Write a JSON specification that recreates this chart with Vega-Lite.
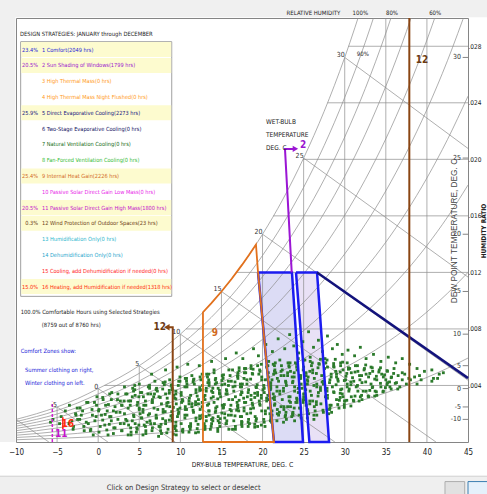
{
"$schema":"https://vega.github.io/schema/vega-lite/v6.json",
"width":452,"height":424,
"autosize":{"type":"none"},
"padding":{"left":16,"top":18,"right":19,"bottom":52},
"background":"white",
"config":{
 "font":"Liberation Sans Narrow, DejaVu Sans Condensed, sans-serif",
 "view":{"stroke":"#858585","strokeWidth":1,"fill":"white"},
 "text":{"font":"Liberation Sans Narrow, DejaVu Sans Condensed, sans-serif","fontSize":7,"color":"#222222"}
},
"resolve":{"scale":{"y":"independent"}},
"datasets":{
 "rh":[
  {"g":100,"t":-10,"w":1.60},{"g":100,"t":-7.5,"w":2.00},{"g":100,"t":-5,"w":2.48},{"g":100,"t":-2.5,"w":3.07},{"g":100,"t":0,"w":3.78},{"g":100,"t":2.5,"w":4.53},{"g":100,"t":5,"w":5.40},{"g":100,"t":7.5,"w":6.44},{"g":100,"t":10,"w":7.63},{"g":100,"t":12.5,"w":9.03},{"g":100,"t":15,"w":10.65},{"g":100,"t":17.5,"w":12.53},{"g":100,"t":20,"w":14.70},{"g":100,"t":22.5,"w":17.20},{"g":100,"t":25,"w":20.09},{"g":100,"t":27.5,"w":23.40},{"g":100,"t":30,"w":27.21},{"g":100,"t":32.5,"w":31.58},
  {"g":90,"t":-10,"w":1.44},{"g":90,"t":-7.5,"w":1.80},{"g":90,"t":-5,"w":2.23},{"g":90,"t":-2.5,"w":2.76},{"g":90,"t":0,"w":3.40},{"g":90,"t":2.5,"w":4.07},{"g":90,"t":5,"w":4.86},{"g":90,"t":7.5,"w":5.79},{"g":90,"t":10,"w":6.86},{"g":90,"t":12.5,"w":8.11},{"g":90,"t":15,"w":9.57},{"g":90,"t":17.5,"w":11.25},{"g":90,"t":20,"w":13.20},{"g":90,"t":22.5,"w":15.44},{"g":90,"t":25,"w":18.02},{"g":90,"t":27.5,"w":20.98},{"g":90,"t":30,"w":24.38},{"g":90,"t":32.5,"w":28.28},{"g":90,"t":35,"w":32.74},
  {"g":80,"t":-10,"w":1.28},{"g":80,"t":-7.5,"w":1.60},{"g":80,"t":-5,"w":1.98},{"g":80,"t":-2.5,"w":2.45},{"g":80,"t":0,"w":3.02},{"g":80,"t":2.5,"w":3.61},{"g":80,"t":5,"w":4.32},{"g":80,"t":7.5,"w":5.14},{"g":80,"t":10,"w":6.09},{"g":80,"t":12.5,"w":7.20},{"g":80,"t":15,"w":8.49},{"g":80,"t":17.5,"w":9.98},{"g":80,"t":20,"w":11.70},{"g":80,"t":22.5,"w":13.69},{"g":80,"t":25,"w":15.97},{"g":80,"t":27.5,"w":18.58},{"g":80,"t":30,"w":21.58},{"g":80,"t":32.5,"w":25.01},{"g":80,"t":35,"w":28.93},{"g":80,"t":37.5,"w":33.41},
  {"g":70,"t":-10,"w":1.12},{"g":70,"t":-7.5,"w":1.40},{"g":70,"t":-5,"w":1.73},{"g":70,"t":-2.5,"w":2.15},{"g":70,"t":0,"w":2.64},{"g":70,"t":2.5,"w":3.16},{"g":70,"t":5,"w":3.77},{"g":70,"t":7.5,"w":4.49},{"g":70,"t":10,"w":5.32},{"g":70,"t":12.5,"w":6.29},{"g":70,"t":15,"w":7.42},{"g":70,"t":17.5,"w":8.72},{"g":70,"t":20,"w":10.22},{"g":70,"t":22.5,"w":11.94},{"g":70,"t":25,"w":13.93},{"g":70,"t":27.5,"w":16.20},{"g":70,"t":30,"w":18.80},{"g":70,"t":32.5,"w":21.77},{"g":70,"t":35,"w":25.17},{"g":70,"t":37.5,"w":29.04},{"g":70,"t":40,"w":33.44},
  {"g":60,"t":-10,"w":0.96},{"g":60,"t":-7.5,"w":1.20},{"g":60,"t":-5,"w":1.48},{"g":60,"t":-2.5,"w":1.84},{"g":60,"t":0,"w":2.26},{"g":60,"t":2.5,"w":2.71},{"g":60,"t":5,"w":3.23},{"g":60,"t":7.5,"w":3.85},{"g":60,"t":10,"w":4.56},{"g":60,"t":12.5,"w":5.39},{"g":60,"t":15,"w":6.35},{"g":60,"t":17.5,"w":7.46},{"g":60,"t":20,"w":8.74},{"g":60,"t":22.5,"w":10.21},{"g":60,"t":25,"w":11.90},{"g":60,"t":27.5,"w":13.83},{"g":60,"t":30,"w":16.05},{"g":60,"t":32.5,"w":18.57},{"g":60,"t":35,"w":21.45},{"g":60,"t":37.5,"w":24.73},{"g":60,"t":40,"w":28.44},{"g":60,"t":42.5,"w":32.66},
  {"g":50,"t":-10,"w":0.80},{"g":50,"t":-7.5,"w":1.00},{"g":50,"t":-5,"w":1.24},{"g":50,"t":-2.5,"w":1.53},{"g":50,"t":0,"w":1.88},{"g":50,"t":2.5,"w":2.25},{"g":50,"t":5,"w":2.69},{"g":50,"t":7.5,"w":3.20},{"g":50,"t":10,"w":3.79},{"g":50,"t":12.5,"w":4.48},{"g":50,"t":15,"w":5.28},{"g":50,"t":17.5,"w":6.20},{"g":50,"t":20,"w":7.26},{"g":50,"t":22.5,"w":8.49},{"g":50,"t":25,"w":9.88},{"g":50,"t":27.5,"w":11.48},{"g":50,"t":30,"w":13.31},{"g":50,"t":32.5,"w":15.40},{"g":50,"t":35,"w":17.77},{"g":50,"t":37.5,"w":20.47},{"g":50,"t":40,"w":23.52},{"g":50,"t":42.5,"w":26.98},{"g":50,"t":45,"w":30.90},
  {"g":40,"t":-10,"w":0.64},{"g":40,"t":-7.5,"w":0.80},{"g":40,"t":-5,"w":0.99},{"g":40,"t":-2.5,"w":1.22},{"g":40,"t":0,"w":1.51},{"g":40,"t":2.5,"w":1.80},{"g":40,"t":5,"w":2.15},{"g":40,"t":7.5,"w":2.56},{"g":40,"t":10,"w":3.03},{"g":40,"t":12.5,"w":3.58},{"g":40,"t":15,"w":4.22},{"g":40,"t":17.5,"w":4.95},{"g":40,"t":20,"w":5.80},{"g":40,"t":22.5,"w":6.77},{"g":40,"t":25,"w":7.88},{"g":40,"t":27.5,"w":9.15},{"g":40,"t":30,"w":10.61},{"g":40,"t":32.5,"w":12.26},{"g":40,"t":35,"w":14.14},{"g":40,"t":37.5,"w":16.27},{"g":40,"t":40,"w":18.68},{"g":40,"t":42.5,"w":21.40},{"g":40,"t":45,"w":24.47},
  {"g":30,"t":-10,"w":0.48},{"g":30,"t":-5,"w":0.74},{"g":30,"t":0,"w":1.13},{"g":30,"t":2.5,"w":1.35},{"g":30,"t":5,"w":1.61},{"g":30,"t":7.5,"w":1.92},{"g":30,"t":10,"w":2.27},{"g":30,"t":12.5,"w":2.68},{"g":30,"t":15,"w":3.16},{"g":30,"t":17.5,"w":3.71},{"g":30,"t":20,"w":4.34},{"g":30,"t":22.5,"w":5.06},{"g":30,"t":25,"w":5.89},{"g":30,"t":27.5,"w":6.84},{"g":30,"t":30,"w":7.92},{"g":30,"t":32.5,"w":9.15},{"g":30,"t":35,"w":10.54},{"g":30,"t":37.5,"w":12.12},{"g":30,"t":40,"w":13.90},{"g":30,"t":42.5,"w":15.91},{"g":30,"t":45,"w":18.18},
  {"g":20,"t":-10,"w":0.32},{"g":20,"t":-5,"w":0.49},{"g":20,"t":0,"w":0.75},{"g":20,"t":5,"w":1.07},{"g":20,"t":7.5,"w":1.28},{"g":20,"t":10,"w":1.51},{"g":20,"t":12.5,"w":1.79},{"g":20,"t":15,"w":2.10},{"g":20,"t":17.5,"w":2.47},{"g":20,"t":20,"w":2.89},{"g":20,"t":22.5,"w":3.37},{"g":20,"t":25,"w":3.92},{"g":20,"t":27.5,"w":4.54},{"g":20,"t":30,"w":5.26},{"g":20,"t":32.5,"w":6.07},{"g":20,"t":35,"w":6.99},{"g":20,"t":37.5,"w":8.03},{"g":20,"t":40,"w":9.20},{"g":20,"t":42.5,"w":10.52},{"g":20,"t":45,"w":12.00},
  {"g":10,"t":-10,"w":0.16},{"g":10,"t":0,"w":0.38},{"g":10,"t":5,"w":0.54},{"g":10,"t":10,"w":0.76},{"g":10,"t":15,"w":1.05},{"g":10,"t":20,"w":1.44},{"g":10,"t":25,"w":1.95},{"g":10,"t":27.5,"w":2.26},{"g":10,"t":30,"w":2.62},{"g":10,"t":32.5,"w":3.02},{"g":10,"t":35,"w":3.48},{"g":10,"t":37.5,"w":3.99},{"g":10,"t":40,"w":4.57},{"g":10,"t":42.5,"w":5.22},{"g":10,"t":45,"w":5.94}
 ],
 "grid":[
  {"t1":-5,"w1":0,"t2":-5,"w2":2.48},{"t1":0,"w1":0,"t2":0,"w2":3.78},{"t1":5,"w1":0,"t2":5,"w2":5.40},{"t1":10,"w1":0,"t2":10,"w2":7.63},{"t1":15,"w1":0,"t2":15,"w2":10.65},{"t1":20,"w1":0,"t2":20,"w2":14.70},{"t1":25,"w1":0,"t2":25,"w2":20.09},{"t1":30,"w1":0,"t2":30,"w2":27.21},{"t1":35,"w1":0,"t2":35,"w2":30},{"t1":40,"w1":0,"t2":40,"w2":30},
  {"t1":0.75,"w1":4,"t2":45,"w2":4},{"t1":10.66,"w1":8,"t2":45,"w2":8},{"t1":16.8,"w1":12,"t2":45,"w2":12},{"t1":21.3,"w1":16,"t2":45,"w2":16},{"t1":24.93,"w1":20,"t2":45,"w2":20},{"t1":27.9,"w1":24,"t2":45,"w2":24},{"t1":30.45,"w1":28,"t2":45,"w2":28},
  {"t1":-10,"w1":1.60,"t2":-6.0,"w2":0},{"t1":-5,"w1":2.48,"t2":1.18,"w2":0},{"t1":0,"w1":3.78,"t2":9.38,"w2":0},{"t1":5,"w1":5.40,"t2":18.37,"w2":0},{"t1":10,"w1":7.63,"t2":28.8,"w2":0},{"t1":15,"w1":10.65,"t2":41.1,"w2":0},{"t1":20,"w1":14.70,"t2":45,"w2":4.37},{"t1":25,"w1":20.09,"t2":45,"w2":11.67},{"t1":30,"w1":27.21,"t2":45,"w2":20.77}
 ],
 "hours":[
  {"t":-4.5,"w":1.8},{"t":-4.7,"w":1.3},{"t":-4.0,"w":2.2},{"t":-3.2,"w":1.5},{"t":-3.5,"w":2.6},{"t":-2.7,"w":1.9},{"t":-3.0,"w":1.1},{"t":-2.2,"w":2.4},{"t":-2.5,"w":1.6},{"t":-1.7,"w":0.8},{"t":-1.9,"w":2.2},{"t":-1.2,"w":1.3},{"t":-1.4,"w":2.8},{"t":-0.7,"w":1.9},{"t":-0.9,"w":0.9},{"t":-0.2,"w":2.6},{"t":-0.4,"w":1.5},{"t":-0.6,"w":0.5},
  {"t":0.1,"w":2.3},{"t":0.8,"w":1.2},{"t":0.6,"w":3.0},{"t":0.4,"w":1.9},{"t":0.1,"w":0.7},{"t":0.9,"w":2.6},{"t":1.6,"w":1.5},{"t":1.4,"w":3.4},{"t":1.1,"w":2.2},{"t":1.9,"w":1.0},{"t":1.6,"w":3.0},{"t":1.4,"w":1.8},{"t":1.2,"w":0.5},
  {"t":2.9,"w":2.6},{"t":2.7,"w":1.3},{"t":2.4,"w":3.4},{"t":2.2,"w":2.1},{"t":2.9,"w":0.8},{"t":2.7,"w":2.9},{"t":2.4,"w":1.6},{"t":3.2,"w":3.9},{"t":3.9,"w":2.6},{"t":3.7,"w":1.2},{"t":3.5,"w":3.4},{"t":3.2,"w":2.0},{"t":4.0,"w":0.7},{"t":3.7,"w":2.9},{"t":3.5,"w":1.5},
  {"t":4.2,"w":3.8},{"t":5.0,"w":2.4},{"t":4.7,"w":1.0},{"t":4.5,"w":3.3},{"t":4.3,"w":1.9},{"t":4.0,"w":0.5},{"t":4.8,"w":2.8},{"t":4.5,"w":1.3},{"t":4.3,"w":3.6},
  {"t":5.0,"w":2.3},{"t":5.8,"w":0.8},{"t":5.5,"w":3.2},{"t":5.3,"w":1.7},{"t":5.0,"w":4.1},{"t":5.8,"w":2.6},{"t":5.6,"w":1.2},{"t":5.3,"w":3.5},{"t":5.1,"w":2.0},{"t":5.8,"w":0.6},
  {"t":6.6,"w":3.0},{"t":6.3,"w":1.5},{"t":6.1,"w":3.9},{"t":6.8,"w":2.4},{"t":6.6,"w":1.0},{"t":6.4,"w":3.4},{"t":6.1,"w":1.9},{"t":6.9,"w":4.3},{"t":6.6,"w":2.8},{"t":6.4,"w":1.3},
  {"t":7.1,"w":3.8},{"t":7.9,"w":2.3},{"t":7.6,"w":0.8},{"t":7.4,"w":3.2},{"t":7.1,"w":1.7},{"t":7.9,"w":4.2},{"t":7.7,"w":2.7},{"t":7.4,"w":1.1},{"t":7.2,"w":3.6},{"t":7.9,"w":2.1},{"t":7.7,"w":0.6},
  {"t":8.4,"w":3.1},{"t":8.2,"w":1.5},{"t":8.9,"w":4.0},{"t":8.7,"w":2.5},{"t":8.5,"w":0.9},{"t":8.2,"w":3.4},{"t":9.0,"w":1.9},{"t":8.7,"w":4.4},{"t":8.5,"w":2.8},{"t":8.2,"w":1.3},{"t":9.0,"w":3.8},
  {"t":9.7,"w":2.3},{"t":9.5,"w":0.8},{"t":9.2,"w":3.3},{"t":9.0,"w":1.7},{"t":9.8,"w":4.3},{"t":9.5,"w":2.7},{"t":9.3,"w":1.1},{"t":9.0,"w":3.7},{"t":9.8,"w":2.1},{"t":9.5,"w":0.5},{"t":9.3,"w":3.1},{"t":9.0,"w":1.5},
  {"t":10.8,"w":4.1},{"t":10.6,"w":2.5},{"t":10.3,"w":0.9},{"t":10.1,"w":3.5},{"t":10.8,"w":1.9},{"t":10.6,"w":4.5},{"t":10.3,"w":2.9},{"t":10.1,"w":1.3},{"t":10.8,"w":3.9},{"t":10.6,"w":2.3},{"t":10.3,"w":0.7},{"t":10.1,"w":3.3},
  {"t":11.9,"w":1.7},{"t":11.6,"w":4.4},{"t":11.4,"w":2.7},{"t":11.1,"w":1.1},{"t":11.9,"w":3.7},{"t":11.6,"w":2.1},{"t":11.4,"w":4.7},{"t":11.1,"w":3.1},{"t":11.9,"w":1.5},{"t":11.7,"w":4.1},{"t":11.4,"w":2.5},{"t":11.2,"w":0.9},{"t":11.9,"w":3.5},
  {"t":12.7,"w":1.9},{"t":12.4,"w":4.6},{"t":12.2,"w":3.0},{"t":12.9,"w":1.3},{"t":12.7,"w":4.0},{"t":12.4,"w":2.3},{"t":12.2,"w":0.7},{"t":13.0,"w":3.3},{"t":12.7,"w":1.7},{"t":12.5,"w":4.4},{"t":12.2,"w":2.7},{"t":13.0,"w":1.1},{"t":12.7,"w":3.7},
  {"t":13.5,"w":2.2},{"t":13.2,"w":4.8},{"t":14.0,"w":3.2},{"t":13.8,"w":1.6},{"t":13.5,"w":4.2},{"t":13.3,"w":2.6},{"t":13.0,"w":0.9},{"t":13.8,"w":3.6},{"t":13.5,"w":1.9},{"t":13.3,"w":4.6},{"t":13.0,"w":3.0},{"t":13.8,"w":1.3},{"t":13.5,"w":4.0},
  {"t":14.3,"w":2.4},{"t":14.1,"w":5.1},{"t":14.8,"w":3.4},{"t":14.6,"w":1.8},{"t":14.3,"w":4.5},{"t":14.1,"w":2.8},{"t":14.8,"w":1.1},{"t":14.6,"w":3.8},{"t":14.3,"w":2.2},{"t":14.1,"w":4.9},{"t":14.9,"w":3.2},{"t":14.6,"w":1.5},{"t":14.4,"w":4.2},
  {"t":15.1,"w":2.6},{"t":15.9,"w":0.9},{"t":15.6,"w":3.7},{"t":15.4,"w":2.0},{"t":15.1,"w":4.7},{"t":15.9,"w":3.0},{"t":15.6,"w":1.3},{"t":15.4,"w":4.1},{"t":15.2,"w":2.4},{"t":15.9,"w":5.1},{"t":15.7,"w":3.4},{"t":15.4,"w":1.7},{"t":15.2,"w":4.5},
  {"t":16.9,"w":2.8},{"t":16.7,"w":1.1},{"t":16.4,"w":3.9},{"t":16.2,"w":2.2},{"t":17.0,"w":4.9},{"t":16.7,"w":3.2},{"t":16.5,"w":1.5},{"t":16.2,"w":4.3},{"t":17.0,"w":2.6},{"t":16.7,"w":0.9},{"t":16.5,"w":3.6},{"t":16.2,"w":1.9},{"t":17.0,"w":4.7},
  {"t":17.7,"w":3.1},{"t":17.5,"w":1.4},{"t":17.3,"w":4.1},{"t":17.0,"w":2.4},{"t":17.8,"w":5.2},{"t":17.5,"w":3.5},{"t":17.3,"w":1.8},{"t":17.0,"w":4.5},{"t":17.8,"w":2.8},{"t":17.5,"w":1.1},{"t":17.3,"w":3.9},{"t":17.1,"w":2.2},{"t":17.8,"w":4.9},
  {"t":18.6,"w":3.3},{"t":18.3,"w":1.6},{"t":18.1,"w":4.4},{"t":18.8,"w":2.6},{"t":18.6,"w":5.4},{"t":18.3,"w":3.7},{"t":18.1,"w":2.0},{"t":18.8,"w":4.8},{"t":18.6,"w":3.0},{"t":18.4,"w":1.3},{"t":18.1,"w":4.1},{"t":18.9,"w":2.4},{"t":18.6,"w":5.2},
  {"t":19.4,"w":3.5},{"t":19.1,"w":1.8},{"t":19.9,"w":4.6},{"t":19.6,"w":2.9},{"t":19.4,"w":1.1},{"t":19.2,"w":3.9},{"t":19.9,"w":2.2},{"t":19.7,"w":5.0},{"t":19.4,"w":3.3},{"t":19.2,"w":1.5},{"t":19.9,"w":4.4},{"t":19.7,"w":2.6},{"t":19.4,"w":5.4},
  {"t":20.2,"w":3.8},{"t":20.9,"w":2.0},{"t":20.7,"w":4.9},{"t":20.5,"w":3.1},{"t":20.2,"w":1.4},{"t":21.0,"w":4.2},{"t":20.7,"w":2.4},{"t":20.5,"w":5.3},{"t":20.2,"w":3.5},{"t":21.0,"w":1.8},{"t":20.7,"w":4.6},{"t":20.5,"w":2.9},{"t":20.3,"w":1.1},
  {"t":21.0,"w":4.0},{"t":21.8,"w":2.3},{"t":21.5,"w":5.1},{"t":21.3,"w":3.4},{"t":21.0,"w":1.6},{"t":21.8,"w":4.5},{"t":21.5,"w":2.7},{"t":21.3,"w":5.5},{"t":21.0,"w":3.8},{"t":21.8,"w":2.0},{"t":21.6,"w":4.9},{"t":21.3,"w":3.1},{"t":21.1,"w":1.4},
  {"t":22.8,"w":4.3},{"t":22.6,"w":2.5},{"t":22.3,"w":5.4},{"t":22.1,"w":3.6},{"t":22.8,"w":1.9},{"t":22.6,"w":4.7},{"t":22.4,"w":3.0},{"t":22.1,"w":5.8},{"t":22.9,"w":4.0},{"t":22.6,"w":2.3},{"t":22.4,"w":5.1},{"t":22.1,"w":3.4},{"t":22.9,"w":1.6},
  {"t":23.6,"w":4.6},{"t":23.4,"w":2.8},{"t":23.1,"w":5.6},{"t":23.9,"w":3.9},{"t":23.7,"w":2.1},{"t":23.4,"w":5.0},{"t":23.2,"w":3.2},{"t":23.9,"w":1.5},{"t":23.7,"w":4.3},{"t":23.4,"w":2.5},{"t":23.2,"w":5.4},{"t":23.9,"w":3.6},{"t":23.7,"w":1.9},
  {"t":24.5,"w":4.7},{"t":24.2,"w":3.0},{"t":25.0,"w":5.8},{"t":24.7,"w":4.1},{"t":24.5,"w":2.4},{"t":24.2,"w":5.1},{"t":25.0,"w":3.4},{"t":24.7,"w":1.7},{"t":24.5,"w":4.5},{"t":24.2,"w":2.8},{"t":24.0,"w":5.6},{"t":24.8,"w":3.8},
  {"t":25.5,"w":2.2},{"t":25.3,"w":4.9},{"t":25.0,"w":3.2},{"t":25.8,"w":6.0},{"t":25.5,"w":4.3},{"t":25.3,"w":2.6},{"t":25.0,"w":5.3},{"t":25.8,"w":3.6},{"t":25.6,"w":2.0},{"t":25.3,"w":4.7},{"t":25.1,"w":3.0},{"t":25.8,"w":5.7},
  {"t":26.6,"w":4.1},{"t":26.3,"w":2.5},{"t":26.1,"w":5.1},{"t":26.8,"w":3.5},{"t":26.6,"w":1.9},{"t":26.3,"w":4.5},{"t":26.1,"w":2.9},{"t":26.9,"w":5.5},{"t":26.6,"w":3.9},{"t":26.4,"w":2.2},{"t":26.1,"w":4.9},
  {"t":27.9,"w":3.3},{"t":27.6,"w":5.9},{"t":27.4,"w":4.3},{"t":27.1,"w":2.7},{"t":27.9,"w":5.3},{"t":27.7,"w":3.7},{"t":27.4,"w":2.1},{"t":27.2,"w":4.7},{"t":27.9,"w":3.1},{"t":27.7,"w":5.6},{"t":27.4,"w":4.1},
  {"t":28.2,"w":2.6},{"t":28.9,"w":5.0},{"t":28.7,"w":3.5},{"t":28.4,"w":2.1},{"t":28.2,"w":4.4},{"t":29.0,"w":3.0},{"t":28.7,"w":5.3},{"t":28.5,"w":3.9},{"t":28.2,"w":2.4},{"t":29.0,"w":4.8},
  {"t":29.7,"w":3.4},{"t":29.5,"w":5.6},{"t":29.2,"w":4.3},{"t":30.0,"w":2.9},{"t":29.8,"w":5.1},{"t":29.5,"w":3.7},{"t":29.3,"w":2.4},{"t":29.0,"w":4.6},{"t":29.8,"w":3.2},{"t":29.5,"w":5.4},
  {"t":30.3,"w":4.1},{"t":30.0,"w":2.9},{"t":30.8,"w":4.9},{"t":30.5,"w":3.6},{"t":30.3,"w":5.6},{"t":30.1,"w":4.4},{"t":30.8,"w":3.2},{"t":30.6,"w":5.2},{"t":30.3,"w":3.9},
  {"t":31.1,"w":2.9},{"t":31.8,"w":4.7},{"t":31.6,"w":3.6},{"t":31.3,"w":5.4},{"t":31.1,"w":4.3},{"t":31.9,"w":3.2},{"t":31.6,"w":5.0},{"t":31.4,"w":3.9},
  {"t":32.1,"w":3.0},{"t":32.9,"w":4.6},{"t":32.6,"w":3.6},{"t":32.4,"w":5.2},{"t":32.1,"w":4.2},{"t":32.9,"w":3.2},{"t":32.6,"w":4.8},
  {"t":33.4,"w":3.9},{"t":33.2,"w":5.3},{"t":33.9,"w":4.4},{"t":33.7,"w":3.6},{"t":33.4,"w":5.0},{"t":33.2,"w":4.1},{"t":33.9,"w":3.3},
  {"t":34.7,"w":4.6},{"t":34.4,"w":3.9},{"t":34.2,"w":5.1},{"t":35.0,"w":4.4},{"t":34.7,"w":3.6},{"t":34.5,"w":4.8},
  {"t":35.2,"w":4.2},{"t":36.0,"w":5.2},{"t":35.7,"w":4.6},{"t":35.5,"w":3.9},{"t":35.2,"w":5.0},
  {"t":37.0,"w":4.4},{"t":36.7,"w":3.9},{"t":36.5,"w":4.7},{"t":36.3,"w":4.2},{"t":37.0,"w":4.9},{"t":37.8,"w":4.5},{"t":37.5,"w":4.1},{"t":37.3,"w":4.8},
  {"t":38.0,"w":4.4},{"t":38.8,"w":4.1},{"t":38.5,"w":4.6},{"t":39.3,"w":4.4},{"t":39.1,"w":4.7},{"t":40.8,"w":4.5},{"t":40.6,"w":4.3},{"t":41.3,"w":4.5},
  {"t":12.3,"w":5.4},{"t":13.8,"w":5.7},{"t":15.5,"w":5.9},{"t":16.8,"w":6.3},{"t":17.6,"w":5.9},{"t":18.9,"w":6.6},{"t":19.5,"w":6.1},{"t":20.4,"w":6.9},{"t":21.2,"w":6.4},{"t":21.9,"w":7.3},{"t":22.7,"w":6.6},{"t":23.3,"w":7.6},{"t":23.8,"w":6.8},{"t":24.4,"w":6.3},{"t":24.9,"w":7.1},{"t":25.6,"w":7.8},{"t":26.2,"w":6.7},{"t":26.8,"w":7.2},{"t":27.3,"w":6.4},{"t":27.9,"w":7.5},{"t":28.5,"w":6.6},{"t":29.1,"w":6.9},{"t":29.7,"w":6.2},{"t":30.4,"w":6.5},{"t":31.2,"w":6.1},{"t":31.9,"w":6.7},{"t":32.6,"w":5.9},{"t":33.5,"w":6.2},{"t":34.4,"w":5.7},{"t":35.3,"w":6.0},{"t":36.2,"w":5.6},{"t":37.0,"w":5.9},{"t":37.9,"w":5.5},{"t":38.8,"w":5.2},{"t":39.7,"w":5.0},{"t":40.6,"w":5.1},{"t":41.5,"w":4.8},{"t":42.0,"w":4.9},{"t":6.5,"w":4.8},{"t":8.2,"w":5.1},{"t":9.6,"w":5.3},{"t":10.9,"w":5.5},{"t":-5.5,"w":1.6},{"t":-5.8,"w":1.4},
  {"t":-3.55,"w":1.3},{"t":-2.75,"w":2.0},{"t":-3.05,"w":0.9},{"t":-2.25,"w":1.6},{"t":-2.55,"w":2.4},{"t":-1.75,"w":1.1},{"t":-2.05,"w":1.9},{"t":-1.25,"w":2.8},{"t":-1.45,"w":1.4},{"t":-0.75,"w":2.3},{"t":-0.95,"w":0.8},{"t":-0.25,"w":1.8},{"t":-0.45,"w":2.8},{"t":0.25,"w":1.1},{"t":0.05,"w":2.2},{"t":-0.15,"w":3.2},
  {"t":0.55,"w":1.55},{"t":1.25,"w":2.65},{"t":1.05,"w":0.85},{"t":0.85,"w":1.95},{"t":0.55,"w":3.15},{"t":1.35,"w":1.25},
  {"t":2.05,"w":2.5},{"t":1.85,"w":0.6},{"t":1.55,"w":1.8},{"t":2.35,"w":3.0},{"t":2.05,"w":1.0},{"t":1.85,"w":2.2},{"t":1.65,"w":3.5},
  {"t":3.35,"w":1.6},{"t":3.15,"w":2.9},{"t":2.85,"w":0.8},{"t":2.65,"w":2.1},{"t":3.35,"w":3.4},{"t":3.15,"w":1.3},{"t":2.85,"w":2.6},
  {"t":3.65,"w":0.5},{"t":4.35,"w":1.8},{"t":4.15,"w":3.2},{"t":3.95,"w":1.0},{"t":3.65,"w":2.4},{"t":4.45,"w":3.7},{"t":4.15,"w":1.5},{"t":3.95,"w":2.9},
  {"t":4.65,"w":0.7},{"t":5.45,"w":2.1},{"t":5.15,"w":3.5},{"t":4.95,"w":1.2},{"t":4.75,"w":2.6},{"t":4.45,"w":4.0},{"t":5.25,"w":1.7},{"t":4.95,"w":3.2},{"t":4.75,"w":0.9},
  {"t":5.45,"w":2.3},{"t":6.25,"w":3.8},{"t":5.95,"w":1.4},{"t":5.75,"w":2.9},{"t":5.45,"w":0.5},{"t":6.25,"w":2.0},{"t":6.05,"w":3.4},{"t":5.75,"w":1.1},{"t":5.55,"w":2.6},{"t":6.25,"w":4.0},
  {"t":7.05,"w":1.7},{"t":6.75,"w":3.2},{"t":6.55,"w":0.8},{"t":7.25,"w":2.3},{"t":7.05,"w":3.7},{"t":6.85,"w":1.3},{"t":6.55,"w":2.8},{"t":7.35,"w":0.4},{"t":7.05,"w":1.9},{"t":6.85,"w":3.4},
  {"t":7.55,"w":1.05},{"t":8.35,"w":2.55},{"t":8.05,"w":4.05},{"t":7.85,"w":1.65},{"t":7.55,"w":3.15},{"t":8.35,"w":0.65},{"t":8.15,"w":2.15},{"t":7.85,"w":3.75},{"t":7.65,"w":1.25},{"t":8.35,"w":2.75},{"t":8.15,"w":4.25},
  {"t":8.85,"w":1.85},{"t":8.65,"w":3.45},{"t":9.35,"w":0.95},{"t":9.15,"w":2.45},{"t":8.95,"w":4.05},{"t":8.65,"w":1.55},{"t":9.45,"w":3.05},{"t":9.15,"w":0.55},{"t":8.95,"w":2.15},{"t":8.65,"w":3.65},{"t":9.45,"w":1.15},
  {"t":10.15,"w":2.8},{"t":9.95,"w":4.3},{"t":9.65,"w":1.8},{"t":9.45,"w":3.4},{"t":10.25,"w":0.8},{"t":9.95,"w":2.4},{"t":9.75,"w":4.0},{"t":9.45,"w":1.4},{"t":10.25,"w":3.0},{"t":9.95,"w":4.6},{"t":9.75,"w":2.0},{"t":9.45,"w":3.6},
  {"t":11.25,"w":1.1},{"t":11.05,"w":2.7},{"t":10.75,"w":4.3},{"t":10.55,"w":1.7},{"t":11.25,"w":3.3},{"t":11.05,"w":0.7},{"t":10.75,"w":2.3},{"t":10.55,"w":3.9},{"t":11.25,"w":1.3},{"t":11.05,"w":2.9},{"t":10.75,"w":4.5},{"t":10.55,"w":1.9},
  {"t":12.35,"w":3.65},{"t":12.05,"w":0.95},{"t":11.85,"w":2.65},{"t":11.55,"w":4.25},{"t":12.35,"w":1.65},{"t":12.05,"w":3.25},{"t":11.85,"w":0.65},{"t":11.55,"w":2.25},{"t":12.35,"w":3.85},{"t":12.15,"w":1.25},{"t":11.85,"w":2.85},{"t":11.65,"w":4.45},{"t":12.35,"w":1.85},
  {"t":13.15,"w":3.6},{"t":12.85,"w":0.9},{"t":12.65,"w":2.5},{"t":13.35,"w":4.2},{"t":13.15,"w":1.5},{"t":12.85,"w":3.2},{"t":12.65,"w":4.8},{"t":13.45,"w":2.2},{"t":13.15,"w":3.8},{"t":12.95,"w":1.1},{"t":12.65,"w":2.8},{"t":13.45,"w":4.4},{"t":13.15,"w":1.8},
  {"t":13.95,"w":3.5},{"t":13.65,"w":0.9},{"t":14.45,"w":2.5},{"t":14.25,"w":4.1},{"t":13.95,"w":1.5},{"t":13.75,"w":3.1},{"t":13.45,"w":4.8},{"t":14.25,"w":2.1},{"t":13.95,"w":3.8},{"t":13.75,"w":1.1},{"t":13.45,"w":2.7},{"t":14.25,"w":4.4},{"t":13.95,"w":1.7},
  {"t":14.75,"w":3.45},{"t":14.55,"w":0.75},{"t":15.25,"w":2.45},{"t":15.05,"w":4.05},{"t":14.75,"w":1.35},{"t":14.55,"w":3.05},{"t":15.25,"w":4.75},{"t":15.05,"w":2.05},{"t":14.75,"w":3.65},{"t":14.55,"w":0.95},{"t":15.35,"w":2.65},{"t":15.05,"w":4.35},{"t":14.85,"w":1.65},
  {"t":15.55,"w":3.4},{"t":16.35,"w":5.1},{"t":16.05,"w":2.3},{"t":15.85,"w":4.0},{"t":15.55,"w":1.3},{"t":16.35,"w":3.0},{"t":16.05,"w":4.7},{"t":15.85,"w":1.9},{"t":15.65,"w":3.6},{"t":16.35,"w":0.9},{"t":16.15,"w":2.6},{"t":15.85,"w":4.3},{"t":15.65,"w":1.5},
  {"t":17.35,"w":3.35},{"t":17.15,"w":5.05},{"t":16.85,"w":2.25},{"t":16.65,"w":3.95},{"t":17.45,"w":1.25},{"t":17.15,"w":2.95},{"t":16.95,"w":4.65},{"t":16.65,"w":1.85},{"t":17.45,"w":3.55},{"t":17.15,"w":5.25},{"t":16.95,"w":2.55},{"t":16.65,"w":4.25},{"t":17.45,"w":1.45},
  {"t":18.15,"w":3.2},{"t":17.95,"w":4.9},{"t":17.75,"w":2.2},{"t":17.45,"w":3.9},{"t":18.25,"w":1.1},{"t":17.95,"w":2.8},{"t":17.75,"w":4.5},{"t":17.45,"w":1.8},{"t":18.25,"w":3.5},{"t":17.95,"w":5.2},{"t":17.75,"w":2.4},{"t":17.55,"w":4.1},{"t":18.25,"w":1.4},
  {"t":19.05,"w":3.15},{"t":18.75,"w":4.85},{"t":18.55,"w":2.05},{"t":19.25,"w":3.85},{"t":19.05,"w":1.05},{"t":18.75,"w":2.75},{"t":18.55,"w":4.45},{"t":19.25,"w":1.65},{"t":19.05,"w":3.45},{"t":18.85,"w":5.15},{"t":18.55,"w":2.35},{"t":19.35,"w":4.05},{"t":19.05,"w":1.25},
  {"t":19.85,"w":3.1},{"t":19.55,"w":4.8},{"t":20.35,"w":2.0},{"t":20.05,"w":3.7},{"t":19.85,"w":5.5},{"t":19.65,"w":2.7},{"t":20.35,"w":4.4},{"t":20.15,"w":1.6},{"t":19.85,"w":3.3},{"t":19.65,"w":5.1},{"t":20.35,"w":2.2},{"t":20.15,"w":4.0},{"t":19.85,"w":1.2},
  {"t":20.65,"w":3.0},{"t":21.35,"w":4.8},{"t":21.15,"w":1.9},{"t":20.95,"w":3.7},{"t":20.65,"w":5.4},{"t":21.45,"w":2.6},{"t":21.15,"w":4.4},{"t":20.95,"w":1.5},{"t":20.65,"w":3.3},{"t":21.45,"w":5.0},{"t":21.15,"w":2.2},{"t":20.95,"w":3.9},{"t":20.75,"w":5.7},
  {"t":21.45,"w":3.0},{"t":22.25,"w":4.7},{"t":21.95,"w":1.9},{"t":21.75,"w":3.6},{"t":21.45,"w":5.4},{"t":22.25,"w":2.5},{"t":21.95,"w":4.3},{"t":21.75,"w":1.5},{"t":21.45,"w":3.2},{"t":22.25,"w":5.0},{"t":22.05,"w":2.1},{"t":21.75,"w":3.9},{"t":21.55,"w":5.6},
  {"t":23.25,"w":2.9},{"t":23.05,"w":4.7},{"t":22.75,"w":1.8},{"t":22.55,"w":3.6},{"t":23.25,"w":5.3},{"t":23.05,"w":2.5},{"t":22.85,"w":4.2},{"t":22.55,"w":1.4},{"t":23.35,"w":3.2},{"t":23.05,"w":4.9},{"t":22.85,"w":2.1},{"t":22.55,"w":3.8},{"t":23.35,"w":5.6},
  {"t":24.05,"w":2.8},{"t":23.85,"w":4.6},{"t":23.55,"w":1.8},{"t":24.35,"w":3.5},{"t":24.15,"w":5.3},{"t":23.85,"w":2.4},{"t":23.65,"w":4.2},{"t":24.35,"w":5.9},{"t":24.15,"w":3.1},{"t":23.85,"w":4.9},{"t":23.65,"w":2.0},{"t":24.35,"w":3.8},{"t":24.15,"w":5.5},
  {"t":24.95,"w":2.8},{"t":24.65,"w":4.5},{"t":25.45,"w":1.7},{"t":25.15,"w":3.4},{"t":24.95,"w":5.1},{"t":24.65,"w":2.4},{"t":25.45,"w":4.1},{"t":25.15,"w":5.8},{"t":24.95,"w":3.0},{"t":24.65,"w":4.7},{"t":24.45,"w":1.9},{"t":25.25,"w":3.7},
  {"t":25.95,"w":5.4},{"t":25.75,"w":2.7},{"t":25.45,"w":4.4},{"t":26.25,"w":1.6},{"t":25.95,"w":3.3},{"t":25.75,"w":5.0},{"t":25.45,"w":2.3},{"t":26.25,"w":4.0},{"t":26.05,"w":5.6},{"t":25.75,"w":2.9},{"t":25.55,"w":4.6},{"t":26.25,"w":1.9},
  {"t":27.05,"w":3.65},{"t":26.75,"w":5.25},{"t":26.55,"w":2.65},{"t":27.25,"w":4.25},{"t":27.05,"w":5.85},{"t":26.75,"w":3.25},{"t":26.55,"w":4.85},{"t":27.35,"w":2.25},{"t":27.05,"w":3.85},{"t":26.85,"w":5.55},{"t":26.55,"w":2.85},
  {"t":28.35,"w":4.6},{"t":28.05,"w":2.0},{"t":27.85,"w":3.6},{"t":27.55,"w":5.2},{"t":28.35,"w":2.6},{"t":28.15,"w":4.2},{"t":27.85,"w":5.8},{"t":27.65,"w":3.2},{"t":28.35,"w":4.8},{"t":28.15,"w":2.3},{"t":27.85,"w":3.8},
  {"t":28.65,"w":5.35},{"t":29.35,"w":2.95},{"t":29.15,"w":4.45},{"t":28.85,"w":5.85},{"t":28.65,"w":3.55},{"t":29.45,"w":4.95},{"t":29.15,"w":2.65},{"t":28.95,"w":4.05},{"t":28.65,"w":5.55},{"t":29.45,"w":3.15},
  {"t":30.15,"w":4.65},{"t":29.95,"w":2.45},{"t":29.65,"w":3.75},{"t":30.45,"w":5.15},{"t":30.25,"w":2.95},{"t":29.95,"w":4.35},{"t":29.75,"w":5.65},{"t":29.45,"w":3.45},{"t":30.25,"w":4.85},{"t":29.95,"w":2.65},
  {"t":30.75,"w":4.05},{"t":30.45,"w":5.25},{"t":31.25,"w":3.25},{"t":30.95,"w":4.55},{"t":30.75,"w":2.55},{"t":30.55,"w":3.75},{"t":31.25,"w":4.95},{"t":31.05,"w":2.95},{"t":30.75,"w":4.25},
  {"t":31.55,"w":5.4},{"t":32.25,"w":3.6},{"t":32.05,"w":4.7},{"t":31.75,"w":2.9},{"t":31.55,"w":4.0},{"t":32.35,"w":5.1},{"t":32.05,"w":3.3},{"t":31.85,"w":4.4},
  {"t":32.55,"w":5.45},{"t":33.35,"w":3.85},{"t":33.05,"w":4.85},{"t":32.85,"w":3.25},{"t":32.55,"w":4.25},{"t":33.35,"w":5.25},{"t":33.05,"w":3.65},
  {"t":33.85,"w":4.65},{"t":33.65,"w":3.25},{"t":34.35,"w":4.15},{"t":34.15,"w":4.95},{"t":33.85,"w":3.55},{"t":33.65,"w":4.45},{"t":34.35,"w":5.25},
  {"t":35.15,"w":4.05},{"t":34.85,"w":4.75},{"t":34.65,"w":3.55},{"t":35.45,"w":4.25},{"t":35.15,"w":5.05},{"t":34.95,"w":3.85},
  {"t":35.65,"w":4.55},{"t":36.45,"w":3.75},{"t":36.15,"w":4.15},{"t":35.95,"w":4.85},{"t":35.65,"w":3.75}
 ],
 "dew":[{"d":"30","w":27.21},{"d":"25","w":20.09},{"d":"20","w":14.70},{"d":"15","w":10.65},{"d":"10","w":7.63},{"d":"5","w":5.40},{"d":"0","w":3.78},{"d":"-5","w":2.48},{"d":"-10","w":1.60}],
 "wb":[{"d":"-5","t":-5,"w":2.48},{"d":"0","t":0,"w":3.78},{"d":"5","t":5,"w":5.40},{"d":"10","t":10,"w":7.63},{"d":"15","t":15,"w":10.65},{"d":"20","t":20,"w":14.70},{"d":"25","t":25,"w":20.09},{"d":"30","t":30,"w":27.21}],
 "leg":[
  {"n":1,"p":"23.4%","s":"1 Comfort(2049 hrs)"},
  {"n":2,"p":"20.5%","s":"2 Sun Shading of Windows(1799 hrs)"},
  {"n":3,"p":"","s":"3 High Thermal Mass(0 hrs)"},
  {"n":4,"p":"","s":"4 High Thermal Mass Night Flushed(0 hrs)"},
  {"n":5,"p":"25.9%","s":"5 Direct Evaporative Cooling(2273 hrs)"},
  {"n":6,"p":"","s":"6 Two-Stage Evaporative Cooling(0 hrs)"},
  {"n":7,"p":"","s":"7 Natural Ventilation Cooling(0 hrs)"},
  {"n":8,"p":"","s":"8 Fan-Forced Ventilation Cooling(0 hrs)"},
  {"n":9,"p":"25.4%","s":"9 Internal Heat Gain(2226 hrs)"},
  {"n":10,"p":"","s":"10 Passive Solar Direct Gain Low Mass(0 hrs)"},
  {"n":11,"p":"20.5%","s":"11 Passive Solar Direct Gain High Mass(1800 hrs)"},
  {"n":12,"p":"0.3%","s":"12 Wind Protection of Outdoor Spaces(23 hrs)"},
  {"n":13,"p":"","s":"13 Humidification Only(0 hrs)"},
  {"n":14,"p":"","s":"14 Dehumidification Only(0 hrs)"},
  {"n":15,"p":"","s":"15 Cooling, add Dehumidification if needed(0 hrs)"},
  {"n":16,"p":"15.0%","s":"16 Heating, add Humidification if needed(1318 hrs)"}
 ]
},
"layer":[
 {"layer":[
  {"data":{"values":[{}]},"mark":{"type":"rect","color":"#f0f0f0"},
   "encoding":{
    "x":{"datum":-12,"type":"quantitative","scale":{"domain":[-10,45],"nice":false,"zero":false},
     "axis":{"values":[-10,-5,0,5,10,15,20,25,30,35,40,45],"domain":false,"ticks":false,"grid":false,"labelFlush":false,"labelOverlap":false,"labelBound":false,"labelFontSize":8,"labelPadding":6,"labelColor":"#222222","labelFont":"Liberation Sans Narrow, DejaVu Sans Condensed, sans-serif","title":"DRY-BULB TEMPERATURE, DEG. C","titleFontSize":6.8,"titleFontWeight":"normal","titleFont":"Liberation Sans Narrow, DejaVu Sans Condensed, sans-serif","titleColor":"#222222","titlePadding":5}},
    "x2":{"datum":47.4},
    "y":{"datum":30.06,"type":"quantitative","scale":{"domain":[0,30],"nice":false,"zero":false},
     "axis":{"orient":"right","values":[4,8,12,16,20,24,28],"labelExpr":"'.0' + (datum.value < 10 ? '0' : '') + datum.value","domain":false,"ticks":false,"grid":false,"labelOverlap":false,"labelBound":false,"labelFontSize":6.5,"labelPadding":0,"labelColor":"#222222","labelFont":"Liberation Sans Narrow, DejaVu Sans Condensed, sans-serif","title":null}},
    "y2":{"datum":31.4}}},
  {"data":{"values":[{}]},"mark":{"type":"rect","color":"#f0f0f0"},
   "encoding":{"x":{"datum":-12,"type":"quantitative"},"x2":{"datum":-10.07},"y":{"datum":0,"type":"quantitative"},"y2":{"datum":31.4}}},
  {"data":{"values":[{}]},"mark":{"type":"rect","color":"#efefef","stroke":"#d0d0d0","strokeWidth":1},
   "encoding":{"x":{"datum":-12.5,"type":"quantitative"},"x2":{"datum":48},"y":{"datum":-2.42,"type":"quantitative"},"y2":{"datum":-4}}},
  {"data":{"values":[{}]},"mark":{"type":"rect","fill":"#e1e1e1","stroke":"#adadad","strokeWidth":1},
   "encoding":{"x":{"datum":42.2,"type":"quantitative"},"x2":{"datum":44.6},"y":{"datum":-2.8,"type":"quantitative"},"y2":{"datum":-4}}},
  {"data":{"values":[{}]},"mark":{"type":"rect","fill":"#e5f1fb","stroke":"#3c7fb1","strokeWidth":1},
   "encoding":{"x":{"datum":45.0,"type":"quantitative"},"x2":{"datum":47.4},"y":{"datum":-2.8,"type":"quantitative"},"y2":{"datum":-4}}},
  {"data":{"values":[{"w":0,"l":21.39,"r":24.92},{"w":12,"l":19.45,"r":23.58}]},"mark":{"type":"area","orient":"horizontal","color":"#dcdcf5"},
   "encoding":{"y":{"field":"w","type":"quantitative"},"x":{"field":"l","type":"quantitative"},"x2":{"field":"r"}}},
  {"data":{"values":[{"w":0,"l":25.70,"r":28.09},{"w":12,"l":24.07,"r":26.63}]},"mark":{"type":"area","orient":"horizontal","color":"#e9e1f6"},
   "encoding":{"y":{"field":"w","type":"quantitative"},"x":{"field":"l","type":"quantitative"},"x2":{"field":"r"}}},
  {"data":{"name":"rh"},"mark":{"type":"line","color":"#8c8c8c","strokeWidth":0.7,"clip":true,"interpolate":"monotone"},
   "encoding":{"x":{"field":"t","type":"quantitative"},"y":{"field":"w","type":"quantitative"},"detail":{"field":"g"}}},
  {"data":{"name":"grid"},"mark":{"type":"rule","color":"#8c8c8c","strokeWidth":0.7,"clip":true},
   "encoding":{"x":{"field":"t1","type":"quantitative"},"y":{"field":"w1","type":"quantitative"},"x2":{"field":"t2"},"y2":{"field":"w2"}}},
  {"data":{"name":"dew"},"mark":{"type":"rule","color":"#666666","strokeWidth":0.8},
   "encoding":{"x":{"datum":44.35,"type":"quantitative"},"x2":{"datum":45},"y":{"field":"w","type":"quantitative"}}},
  {"data":{"name":"hours"},"mark":{"type":"square","size":8,"color":"#2b7a2b","opacity":1},
   "encoding":{"x":{"field":"t","type":"quantitative"},"y":{"field":"w","type":"quantitative"}}},
  {"data":{"values":[{"z":1,"i":1,"t":19.45,"w":12},{"z":1,"i":2,"t":23.58,"w":12},{"z":1,"i":3,"t":24.92,"w":0},{"z":1,"i":4,"t":21.39,"w":0},{"z":1,"i":5,"t":19.45,"w":12},
     {"z":2,"i":1,"t":24.07,"w":12},{"z":2,"i":2,"t":26.63,"w":12},{"z":2,"i":3,"t":28.09,"w":0},{"z":2,"i":4,"t":25.70,"w":0},{"z":2,"i":5,"t":24.07,"w":12}]},
   "mark":{"type":"line","color":"#1c1cf0","strokeWidth":2.5},
   "encoding":{"x":{"field":"t","type":"quantitative"},"y":{"field":"w","type":"quantitative"},"detail":{"field":"z"},"order":{"field":"i"}}},
  {"data":{"values":[{"t1":26.63,"w1":12,"t2":45,"w2":4.52}]},"mark":{"type":"rule","color":"#13137c","strokeWidth":2.5},
   "encoding":{"x":{"field":"t1","type":"quantitative"},"y":{"field":"w1","type":"quantitative"},"x2":{"field":"t2"},"y2":{"field":"w2"}}},
  {"data":{"values":[{"i":1,"t":12.75,"w":0},{"i":2,"t":12.75,"w":9.18},{"i":3,"t":13.75,"w":9.81},{"i":4,"t":15,"w":10.65},{"i":5,"t":16.25,"w":11.55},{"i":6,"t":17.5,"w":12.53},{"i":7,"t":18.35,"w":13.23},{"i":8,"t":19.2,"w":13.97},{"i":9,"t":19.45,"w":12.0},{"i":10,"t":21.39,"w":0},{"i":11,"t":12.75,"w":0}]},
   "mark":{"type":"line","color":"#e2711d","strokeWidth":1.8},
   "encoding":{"x":{"field":"t","type":"quantitative"},"y":{"field":"w","type":"quantitative"},"order":{"field":"i"}}},
  {"data":{"values":[{"i":1,"t":23.55,"w":12.0},{"i":2,"t":22.73,"w":20.74},{"i":3,"t":23.8,"w":20.74}]},
   "mark":{"type":"line","color":"#9b16d4","strokeWidth":2},
   "encoding":{"x":{"field":"t","type":"quantitative"},"y":{"field":"w","type":"quantitative"},"order":{"field":"i"}}},
  {"data":{"values":[{"t":24.0,"w":20.74}]},"mark":{"type":"point","shape":"triangle-right","filled":true,"size":40,"color":"#9b16d4","opacity":1},
   "encoding":{"x":{"field":"t","type":"quantitative"},"y":{"field":"w","type":"quantitative"}}},
  {"data":{"values":[{"t":37.86,"w1":0,"w2":30}]},"mark":{"type":"rule","color":"#8a4513","strokeWidth":2},
   "encoding":{"x":{"field":"t","type":"quantitative"},"y":{"field":"w1","type":"quantitative"},"y2":{"field":"w2"}}},
  {"data":{"values":[{"i":1,"t":9.07,"w":0},{"i":2,"t":9.07,"w":8.12},{"i":3,"t":8.5,"w":8.12}]},
   "mark":{"type":"line","color":"#8a4513","strokeWidth":2},
   "encoding":{"x":{"field":"t","type":"quantitative"},"y":{"field":"w","type":"quantitative"},"order":{"field":"i"}}},
  {"data":{"values":[{"t":8.35,"w":8.12}]},"mark":{"type":"point","shape":"triangle-left","filled":true,"size":40,"color":"#8a4513","opacity":1},
   "encoding":{"x":{"field":"t","type":"quantitative"},"y":{"field":"w","type":"quantitative"}}},
  {"data":{"values":[{"t":-5.58,"w1":0,"w2":2.84}]},"mark":{"type":"rule","color":"#d21fd2","strokeWidth":1.5,"strokeDash":[3,2]},
   "encoding":{"x":{"field":"t","type":"quantitative"},"y":{"field":"w1","type":"quantitative"},"y2":{"field":"w2"}}},
  {"data":{"values":[{"t":-4.3,"w1":0.9,"w2":1.75}]},"mark":{"type":"rule","color":"#ff1a1a","strokeWidth":1.5},
   "encoding":{"x":{"field":"t","type":"quantitative"},"y":{"field":"w1","type":"quantitative"},"y2":{"field":"w2"}}},
  {"data":{"name":"wb"},"mark":{"type":"text","align":"right","baseline":"bottom","fontSize":7,"dy":1,"color":"#333333"},
   "encoding":{"x":{"field":"t","type":"quantitative"},"y":{"field":"w","type":"quantitative"},"text":{"field":"d"}}},
  {"data":{"name":"dew"},"mark":{"type":"text","align":"right","baseline":"middle","fontSize":7,"color":"#333333"},
   "encoding":{"x":{"datum":44.15,"type":"quantitative"},"y":{"field":"w","type":"quantitative"},"text":{"field":"d"}}},
  {"data":{"values":[{"s":"RELATIVE HUMIDITY","t":26.2,"w":30.35},{"s":"100%","t":31.9,"w":30.35},{"s":"80%","t":35.75,"w":30.35},{"s":"60%","t":41.0,"w":30.35},{"s":"90%","t":32.2,"w":27.45}]},
   "mark":{"type":"text","align":"center","baseline":"middle","fontSize":6,"color":"#222222"},
   "encoding":{"x":{"field":"t","type":"quantitative"},"y":{"field":"w","type":"quantitative"},"text":{"field":"s"}}},
  {"data":{"values":[{"s":"WET-BULB","w":22.66},{"s":"TEMPERATURE","w":21.72},{"s":"DEG. C","w":20.8}]},
   "mark":{"type":"text","align":"left","baseline":"middle","fontSize":6.5,"color":"#222222"},
   "encoding":{"x":{"datum":20.42,"type":"quantitative"},"y":{"field":"w","type":"quantitative"},"text":{"field":"s"}}},
  {"data":{"values":[{"n":9,"s":"9","t":14.2,"w":7.7},{"n":12,"s":"12","t":39.4,"w":27.0},{"n":2,"s":"2","t":24.95,"w":21.0},{"n":16,"s":"16","t":-3.7,"w":1.3},{"n":11,"s":"11","t":-4.5,"w":0.55},{"n":12,"s":"12","t":7.5,"w":8.15}]},
   "mark":{"type":"text","align":"center","baseline":"middle","fontSize":10,"fontWeight":"bold"},
   "encoding":{"x":{"field":"t","type":"quantitative"},"y":{"field":"w","type":"quantitative"},"text":{"field":"s"},
    "color":{"field":"n","type":"nominal","scale":{"domain":[1,2,3,4,5,6,7,8,9,10,11,12,13,14,15,16],"range":["#1c1cd8","#9a16d0","#ff9a1a","#ff9a1a","#15157e","#0e0e5e","#146c14","#33bb33","#d2691e","#e81ee8","#c412cc","#6b3a12","#1fb5cc","#1fa5cc","#ff1a1a","#ff2a0a"]},"legend":null}}},
  {"data":{"values":[{}]},"mark":{"type":"text","angle":270,"align":"center","baseline":"middle","fontSize":8.3,"font":"Liberation Sans, DejaVu Sans, sans-serif","color":"#444444","text":"DEW POINT TEMPERATURE, DEG. C"},
   "encoding":{"x":{"datum":43.45,"type":"quantitative"},"y":{"datum":14.93,"type":"quantitative"}}},
  {"data":{"values":[{}]},"mark":{"type":"text","angle":270,"align":"center","baseline":"middle","fontSize":6.5,"fontWeight":"bold","color":"#222222","text":"HUMIDITY RATIO"},
   "encoding":{"x":{"datum":46.92,"type":"quantitative"},"y":{"datum":14.93,"type":"quantitative"}}},
  {"data":{"values":[{}]},"mark":{"type":"text","align":"center","baseline":"middle","fontSize":7.5,"color":"#333333","text":"Click on Design Strategy to select or deselect"},
   "encoding":{"x":{"datum":10.4,"type":"quantitative"},"y":{"datum":-3.25,"type":"quantitative"}}}
 ]},
 {"layer":[
  {"data":{"values":[{}]},"mark":{"type":"rect","fill":"white","stroke":"#a0a0a0","strokeWidth":1},
   "encoding":{"x":{"datum":-9.43,"type":"quantitative"},"x2":{"datum":8.95},
    "y":{"datum":0.5,"type":"quantitative","scale":{"domain":[-1,25.84],"reverse":true,"nice":false,"zero":false},"axis":null},"y2":{"datum":16.62}}},
  {"data":{"name":"leg"},"transform":[{"filter":"datum.p != ''"}],"mark":{"type":"tick","orient":"horizontal","color":"#fdfbcf","size":150,"thickness":15,"opacity":1},
   "encoding":{"x":{"datum":-0.24,"type":"quantitative"},"y":{"field":"n","type":"quantitative","axis":null}}},
  {"data":{"values":[{}]},"mark":{"type":"text","align":"left","baseline":"middle","fontSize":5.8,"color":"#222222","text":"DESIGN STRATEGIES:  JANUARY through DECEMBER"},
   "encoding":{"x":{"datum":-9.51,"type":"quantitative"},"y":{"datum":0,"type":"quantitative","axis":null}}},
  {"data":{"name":"leg"},"mark":{"type":"text","align":"right","baseline":"middle","fontSize":5.6},
   "encoding":{"x":{"datum":-7.32,"type":"quantitative"},"y":{"field":"n","type":"quantitative","axis":null},"text":{"field":"p"},
    "color":{"field":"n","type":"nominal","scale":{"domain":[1,2,3,4,5,6,7,8,9,10,11,12,13,14,15,16],"range":["#1c1cd8","#9a16d0","#ff9a1a","#ff9a1a","#15157e","#0e0e5e","#146c14","#33bb33","#d2691e","#e81ee8","#c412cc","#6b3a12","#1fb5cc","#1fa5cc","#ff1a1a","#ff2a0a"]},"legend":null}}},
  {"data":{"name":"leg"},"mark":{"type":"text","align":"left","baseline":"middle","fontSize":5.6},
   "encoding":{"x":{"datum":-6.84,"type":"quantitative"},"y":{"field":"n","type":"quantitative","axis":null},"text":{"field":"s"},
    "color":{"field":"n","type":"nominal","scale":{"domain":[1,2,3,4,5,6,7,8,9,10,11,12,13,14,15,16],"range":["#1c1cd8","#9a16d0","#ff9a1a","#ff9a1a","#15157e","#0e0e5e","#146c14","#33bb33","#d2691e","#e81ee8","#c412cc","#6b3a12","#1fb5cc","#1fa5cc","#ff1a1a","#ff2a0a"]},"legend":null}}},
  {"data":{"values":[{}]},"mark":{"type":"text","align":"left","baseline":"middle","fontSize":5.8,"color":"#222222","text":"100.0%  Comfortable Hours using Selected Strategies"},
   "encoding":{"x":{"datum":-9.43,"type":"quantitative"},"y":{"datum":17.6,"type":"quantitative","axis":null}}},
  {"data":{"values":[{}]},"mark":{"type":"text","align":"left","baseline":"middle","fontSize":5.8,"color":"#222222","text":"(8759 out of 8760 hrs)"},
   "encoding":{"x":{"datum":-6.87,"type":"quantitative"},"y":{"datum":18.43,"type":"quantitative","axis":null}}},
  {"data":{"values":[{}]},"mark":{"type":"text","align":"left","baseline":"middle","fontSize":5.8,"color":"#1c1cd8","text":"Comfort Zones show:"},
   "encoding":{"x":{"datum":-9.43,"type":"quantitative"},"y":{"datum":20.08,"type":"quantitative","axis":null}}},
  {"data":{"values":[{}]},"mark":{"type":"text","align":"left","baseline":"middle","fontSize":5.8,"color":"#1c1cd8","text":"Summer clothing on right,"},
   "encoding":{"x":{"datum":-8.9,"type":"quantitative"},"y":{"datum":21.28,"type":"quantitative","axis":null}}},
  {"data":{"values":[{}]},"mark":{"type":"text","align":"left","baseline":"middle","fontSize":5.8,"color":"#1c1cd8","text":"Winter clothing on left."},
   "encoding":{"x":{"datum":-8.9,"type":"quantitative"},"y":{"datum":22.09,"type":"quantitative","axis":null}}}
 ]}
]
}
